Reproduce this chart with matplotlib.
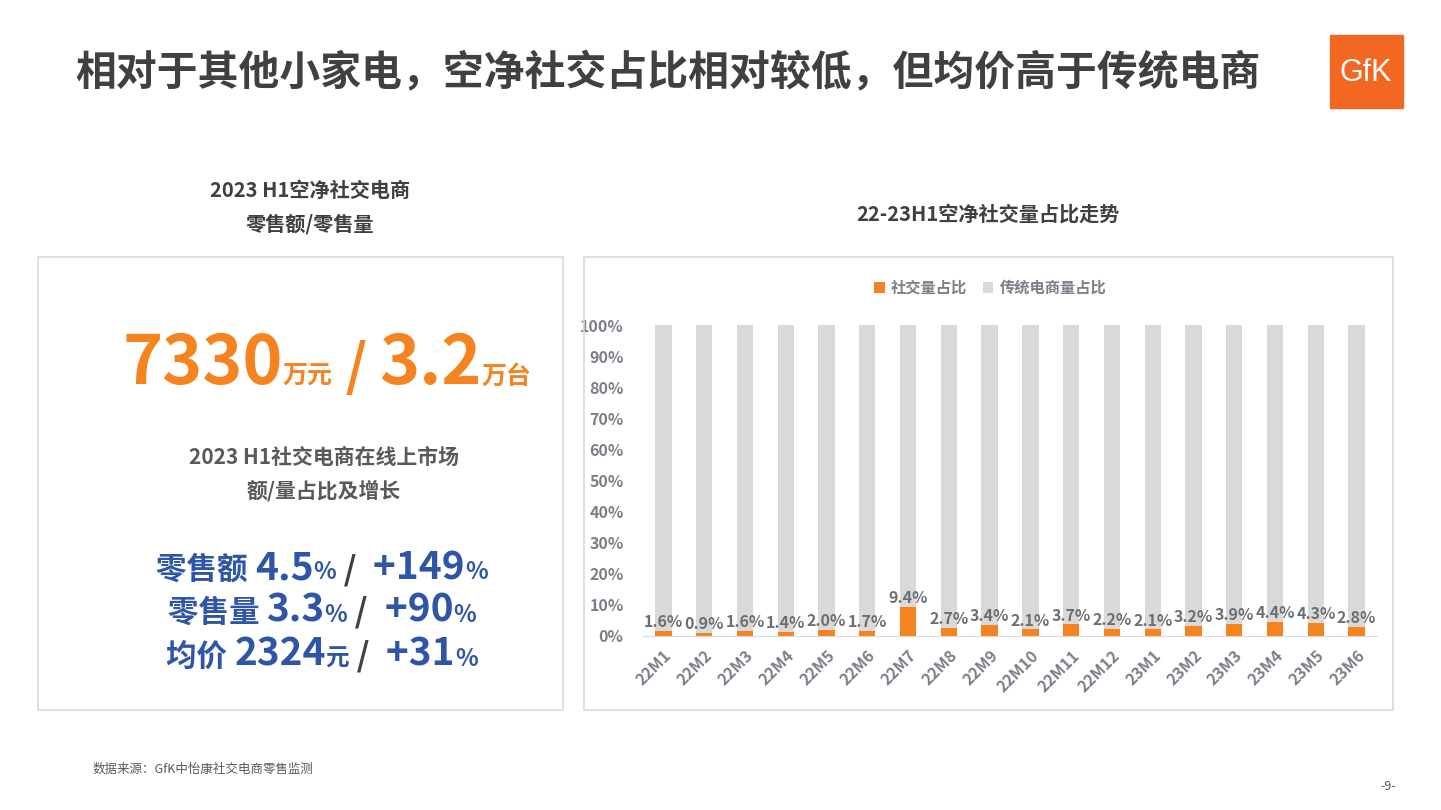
import matplotlib
matplotlib.use("Agg")
import matplotlib.pyplot as plt
import matplotlib.patches as patches
import numpy as np

plt.rcParams['font.family'] = ['Noto Sans CJK SC', 'DejaVu Sans']

# *************************************************************
# Daten
# *************************************************************
months = ['22M1', '22M2', '22M3', '22M4', '22M5', '22M6', '22M7', '22M8', '22M9',
          '22M10', '22M11', '22M12', '23M1', '23M2', '23M3', '23M4', '23M5', '23M6']
social_share = [1.6, 0.9, 1.6, 1.4, 2.0, 1.7, 9.4, 2.7, 3.4,
                2.1, 3.7, 2.2, 2.1, 3.2, 3.9, 4.4, 4.3, 2.8]
traditional_share = [100 - v for v in social_share]
yticks = list(range(0, 101, 10))

title = '相对于其他小家电，空净社交占比相对较低，但均价高于传统电商'
left_header = ['2023 H1空净社交电商', '零售额/零售量']
right_header = '22-23H1空净社交量占比走势'
legend_labels = ['社交量占比', '传统电商量占比']
sub_header = ['2023 H1社交电商在线上市场', '额/量占比及增长']
source = '数据来源：GfK中怡康社交电商零售监测'

ORANGE = '#F5831F'
GRAY = '#D9D9D9'
DARK = '#404040'
MID = '#595959'
BLUE = '#2F56A6'

W, H = 1441, 810
fig = plt.figure(figsize=(W / 100, H / 100), dpi=100)
renderer = fig.canvas.get_renderer()


def fx(px):
    return px / W


def fy(py):
    return 1 - py / H


def rich(runs, cx, py):
    # Textstücke nebeneinander setzen und als Zeile zentrieren (Grundlinie py)
    texts = []
    for txt, size, color in runs:
        t = fig.text(0, fy(py), txt, fontsize=size, color=color, fontweight='bold',
                     ha='left', va='baseline')
        texts.append(t)
    widths = [t.get_window_extent(renderer).width for t in texts]
    x = cx - sum(widths) / 2
    for t, w in zip(texts, widths):
        t.set_x(fx(x))
        x += w


# Titel
fig.text(fx(75), fy(72), title, fontsize=29.4, fontweight='bold', color=DARK,
         ha='left', va='center')

# GfK Logo
fig.patches.append(patches.Rectangle((fx(1330), fy(108)), fx(73), 73 / H,
                                     transform=fig.transFigure, color='#F26722'))
fig.text(fx(1366), fy(73), 'GfK', fontsize=22, color='white', ha='center', va='center',
         family=['Liberation Sans', 'DejaVu Sans'])

# Rahmen
for x0, x1 in [(38, 563), (584, 1393)]:
    fig.patches.append(patches.Rectangle((fx(x0), fy(710)), fx(x1 - x0), (710 - 257) / H,
                                         transform=fig.transFigure, fill=False,
                                         edgecolor='#D9D9D9', linewidth=1.2))

# Überschriften
fig.text(fx(310), fy(190), left_header[0], fontsize=14.5, fontweight='bold', color=DARK,
         ha='center', va='center')
fig.text(fx(310), fy(224), left_header[1], fontsize=14.5, fontweight='bold', color=DARK,
         ha='center', va='center')
fig.text(fx(988), fy(214), right_header, fontsize=14.5, fontweight='bold', color=DARK,
         ha='center', va='center')

# Kennzahlen links
rich([('7330', 49, ORANGE), ('万元', 18, ORANGE), (' / ', 40, ORANGE),
      ('3.2', 49, ORANGE), ('万台', 18, ORANGE)], 327, 384)
fig.text(fx(324), fy(457), sub_header[0], fontsize=15, fontweight='bold', color=MID,
         ha='center', va='center')
fig.text(fx(324), fy(491), sub_header[1], fontsize=15, fontweight='bold', color=MID,
         ha='center', va='center')
rich([('零售额 ', 22, BLUE), ('4.5', 28, BLUE), ('%', 17, BLUE), (' / ', 24, DARK),
      (' +149', 28, BLUE), ('%', 17, BLUE)], 322, 579)
rich([('零售量 ', 22, BLUE), ('3.3', 28, BLUE), ('%', 17, BLUE), (' / ', 24, DARK),
      (' +90', 28, BLUE), ('%', 17, BLUE)], 322, 622)
rich([('均价 ', 22, BLUE), ('2324', 28, BLUE), ('元', 17, BLUE), (' / ', 24, DARK),
      (' +31', 28, BLUE), ('%', 17, BLUE)], 322, 666)

# *************************************************************
# Balkendiagramm
# *************************************************************
ax = fig.add_axes([fx(643), fy(636), fx(1377 - 643), (636 - 325) / H])
x = np.arange(len(months))
ax.bar(x, social_share, width=0.4, color=ORANGE, label=legend_labels[0], zorder=2)
ax.bar(x, traditional_share, width=0.4, bottom=social_share, color=GRAY,
       label=legend_labels[1], zorder=2)

for xi, v in zip(x, social_share):
    ax.text(xi, v + 0.3, '{:.1f}%'.format(v), ha='center', va='bottom', fontsize=11.5,
            fontweight='bold', color='#6B6F75', zorder=3)

ax.set_xlim(-0.5, len(months) - 0.5)
ax.set_ylim(0, 100)
ax.set_yticks(yticks)
ax.set_yticklabels(['{}%'.format(t) for t in yticks])
ax.set_xticks(x)
ax.set_xticklabels(months, rotation=45, ha='right', rotation_mode='anchor')
ax.tick_params(length=0, labelsize=11.5, colors='#7A7F87', pad=8)
for lab in ax.get_xticklabels() + ax.get_yticklabels():
    lab.set_fontweight('bold')
ax.tick_params(axis='y', pad=14)
for s in ['top', 'right', 'left']:
    ax.spines[s].set_visible(False)
ax.spines['bottom'].set_color('#D9D9D9')

leg = ax.legend(loc='lower center', bbox_to_anchor=(0.473, 1.05), ncol=2, frameon=False,
                handlelength=0.7, handleheight=0.7, handletextpad=0.4, columnspacing=1.0,
                prop={'size': 11, 'weight': 'bold'})
for t in leg.get_texts():
    t.set_color('#7A7F87')

# Fusszeile
fig.text(fx(93), fy(769), source, fontsize=9, color=MID, ha='left', va='center')
fig.text(fx(1388), fy(786), '-9-', fontsize=9, color=MID, ha='center', va='center')

fig.savefig('out.png', dpi=100)
